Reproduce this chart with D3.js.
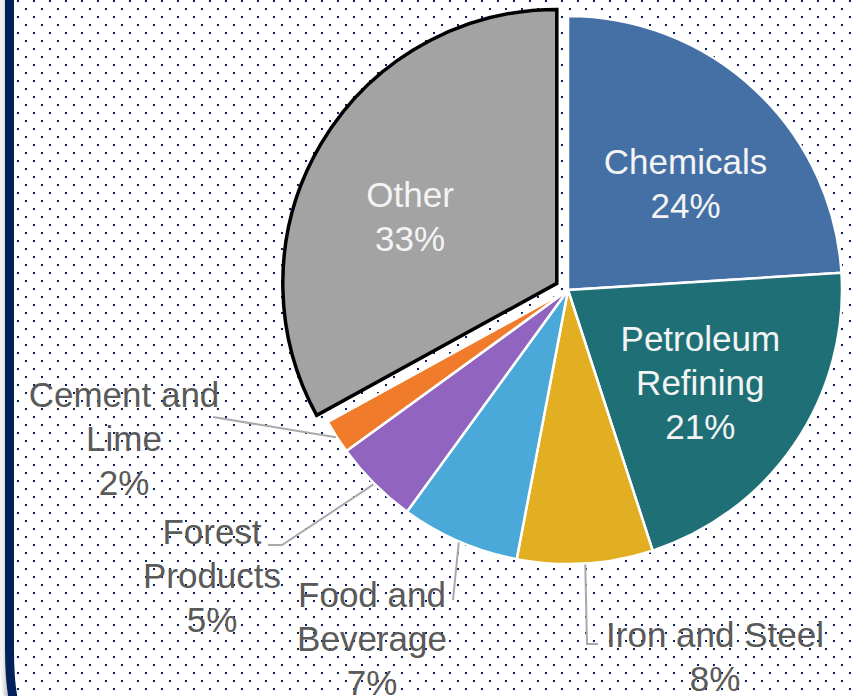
<!DOCTYPE html>
<html>
<head>
<meta charset="utf-8">
<script src="https://cdn.jsdelivr.net/npm/d3@7"></script>
<style>
  html, body { margin: 0; padding: 0; background: #ffffff; overflow: hidden; }
  svg { display: block; }
</style>
</head>
<body>
<svg id="chart" width="856" height="696"></svg>
<script>
// ---- data ----
const categories = ["Chemicals", "Petroleum Refining", "Iron and Steel", "Food and Beverage", "Forest Products", "Cement and Lime", "Other"];
const shares = [24, 21, 8, 7, 5, 2, 33];
const labelLines = [["Chemicals", "24%"], ["Petroleum", "Refining", "21%"], ["Iron and Steel", "8%"], ["Food and", "Beverage", "7%"], ["Forest", "Products", "5%"], ["Cement and", "Lime", "2%"], ["Other", "33%"]];
const colors = ["#4470a6", "#1f7076", "#e3af22", "#4aa9d8", "#9164c0", "#f07b2b", "#a3a3a3"];

// ---- layout ----
const W = 856, H = 696;
const cx = 568, cy = 290, R = 274;
const explodeIdx = 6, explodeDist = 13;
const insideLabel = new Set([0, 1, 6]);
const insideNudge = {0: [8, 11], 1: [0, 3], 6: [-9, 15]};
// outside label anchors (center x, first baseline) and leader elbows
const outside = {
  2: {x: 715, y: 647, path: [[587, 644], [598, 644]]},
  3: {x: 372, y: 607, path: [[453, 600]]},
  4: {x: 212, y: 544, path: [[282, 545], [268, 545]]},
  5: {x: 124, y: 407, path: [[213, 417]]}
};
const lineH = 44;

const svg = d3.select("#chart");
const defs = svg.append("defs");

const pat = defs.append("pattern").attr("id", "dots").attr("patternUnits", "userSpaceOnUse")
  .attr("width", 16).attr("height", 16);
pat.append("rect").attr("x", 1).attr("y", 0).attr("width", 2).attr("height", 2).attr("fill", "#0b1f5c");
pat.append("rect").attr("x", 9).attr("y", 8).attr("width", 2).attr("height", 2).attr("fill", "#0b1f5c");

const grad = defs.append("linearGradient").attr("id", "shadow").attr("x1", 0).attr("x2", 1).attr("y1", 0).attr("y2", 0);
grad.append("stop").attr("offset", 0).attr("stop-color", "#f0f0f0");
grad.append("stop").attr("offset", 1).attr("stop-color", "#b8b8b8");

svg.append("rect").attr("width", W).attr("height", H).attr("fill", "#ffffff");
svg.append("rect").attr("x", 14).attr("y", 0).attr("width", W - 14).attr("height", H).attr("fill", "url(#dots)");

// left border with shadow
svg.append("path").attr("d", "M2.5,-5 L2.5,650 Q2.5,690 9,710").attr("fill", "none")
  .attr("stroke", "url(#shadow)").attr("stroke-width", 5);
svg.append("path").attr("d", "M9.5,-5 L9.5,650 Q9.5,690 16,710").attr("fill", "none")
  .attr("stroke", "#02205a").attr("stroke-width", 9);

const pie = d3.pie().value(d => d).sort(null);
const arcs = pie(shares);
const arc = d3.arc().innerRadius(0).outerRadius(R);
const labelArc = d3.arc().innerRadius(160).outerRadius(160);

const g = svg.append("g").attr("transform", `translate(${cx},${cy})`);

function offsetOf(i) {
  if (i !== explodeIdx) return [0, 0];
  const a = (arcs[i].startAngle + arcs[i].endAngle) / 2;
  return [Math.sin(a) * explodeDist, -Math.cos(a) * explodeDist];
}

g.selectAll("path.slice").data(arcs).join("path")
  .attr("class", "slice")
  .attr("d", arc)
  .attr("transform", (d, i) => `translate(${offsetOf(i)})`)
  .attr("fill", (d, i) => colors[i])
  .attr("stroke", (d, i) => i === explodeIdx ? "#000000" : "#ffffff")
  .attr("stroke-width", (d, i) => i === explodeIdx ? 3.5 : 2.5)
  .attr("stroke-linejoin", "miter");
// draw the exploded slice on top so its outline shows
g.selectAll("path.slice").filter((d, i) => i === explodeIdx).raise();

const font = "'Liberation Sans', Arial, sans-serif";

// inside labels
arcs.forEach((d, i) => {
  if (!insideLabel.has(i)) return;
  const [ox, oy] = offsetOf(i);
  const [lx, ly] = labelArc.centroid(d);
  const nx = insideNudge[i][0], ny = insideNudge[i][1];
  const lines = labelLines[i];
  const t = g.append("text")
    .attr("text-anchor", "middle")
    .attr("font-family", font).attr("font-size", 35)
    .attr("fill", "#f4f4f4");
  const y0 = ly + oy + ny - (lines.length - 1) * lineH / 2 + 12;
  lines.forEach((s, k) => {
    t.append("tspan").attr("x", lx + ox + nx).attr("y", y0 + k * lineH).text(s);
  });
});

// outside labels + leader lines
arcs.forEach((d, i) => {
  const o = outside[i];
  if (!o) return;
  const a = (d.startAngle + d.endAngle) / 2;
  const start = [cx + Math.sin(a) * (R + 1), cy - Math.cos(a) * (R + 1)];
  const pts = [start].concat(o.path);
  svg.append("path").attr("d", d3.line()(pts)).attr("fill", "none")
    .attr("stroke", "#a9a9a9").attr("stroke-width", 2);
  const t = svg.append("text").attr("text-anchor", "middle")
    .attr("font-family", font).attr("font-size", 35).attr("fill", "#5a5a5a");
  labelLines[i].forEach((s, k) => {
    t.append("tspan").attr("x", o.x).attr("y", o.y + k * lineH).text(s);
  });
});
</script>
</body>
</html>
